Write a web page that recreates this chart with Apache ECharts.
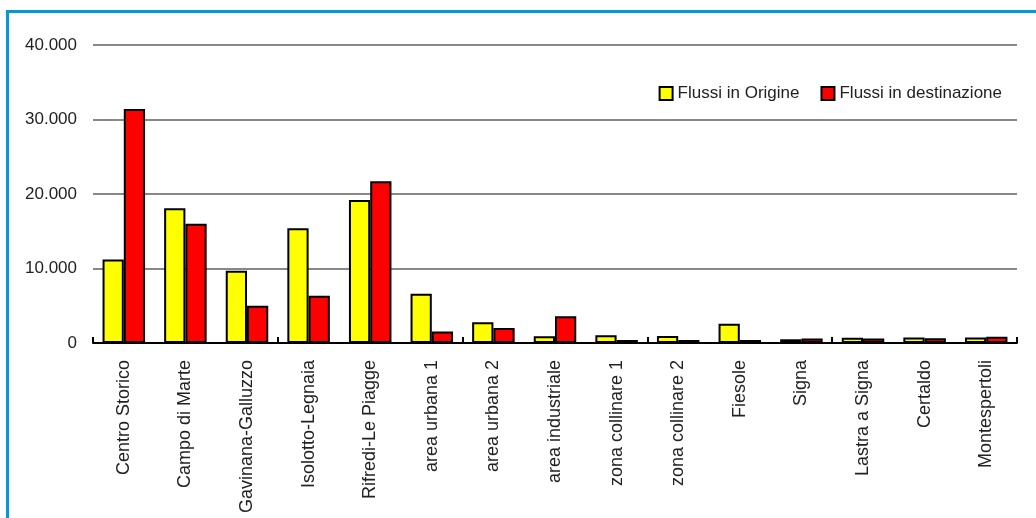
<!DOCTYPE html>
<html>
<head>
<meta charset="utf-8">
<script src="https://cdn.jsdelivr.net/npm/echarts@6/dist/echarts.min.js"></script>
<style>
  html, body { margin: 0; padding: 0; background: #fff; overflow: hidden; }
  #frame { position: absolute; left: 6px; top: 10px; width: 1100px; height: 600px;
           border-top: 3px solid #009ccf; border-left: 3px solid #009ccf; }
  #echarts { position: absolute; left: 0; top: 0; width: 1036px; height: 518px; }
</style>
</head>
<body>
<div id="frame"></div>
<div id="echarts"></div>
<script>
// zone
var zone = ['Centro Storico', 'Campo di Marte', 'Gavinana-Galluzzo', 'Isolotto-Legnaia',
    'Rifredi-Le Piagge', 'area urbana 1', 'area urbana 2', 'area industriale',
    'zona collinare 1', 'zona collinare 2', 'Fiesole', 'Signa', 'Lastra a Signa',
    'Certaldo', 'Montespertoli'];
var origine = [11200, 18100, 9700, 15400, 19200, 6600, 2800, 900, 1050, 950, 2600, 500, 700, 750, 750];
var destinazione = [31400, 16000, 5000, 6350, 21700, 1550, 2000, 3600, 400, 400, 400, 600, 600, 650, 850];
var nomi = ['Flussi in Origine', 'Flussi in destinazione'];

var font = 'Liberation Sans, Arial, sans-serif';

var myChart = echarts.init(document.getElementById('echarts'));
var option = {
    animation: false,
    textStyle: { fontFamily: font },
    legend: {
        data: nomi,
        right: 29,
        top: 80,
        itemWidth: 13,
        itemHeight: 13,
        itemGap: 21,
        icon: 'rect',
        textStyle: { fontSize: 17, color: '#222', fontFamily: font }
    },
    grid: {
        left: 93,
        right: 19,
        top: 45,
        bottom: 175
    },
    xAxis: [{
        type: 'category',
        data: zone,
        z: 5,
        axisLine: { lineStyle: { color: '#000', width: 2 } },
        axisTick: { length: 7, lineStyle: { color: '#000', width: 2 } },
        axisLabel: { rotate: 90, margin: 17, fontSize: 18, color: '#222', fontFamily: font }
    }, {
        type: 'category',
        data: zone,
        show: true,
        position: 'bottom',
        z: 5,
        axisLine: { show: false },
        axisTick: { show: true, inside: true, length: 6, lineStyle: { color: '#000', width: 2 } },
        axisLabel: { show: false }
    }],
    yAxis: {
        type: 'value',
        min: 0,
        max: 40000,
        interval: 10000,
        axisLine: { show: false },
        axisTick: { show: false },
        axisLabel: {
            margin: 16,
            fontSize: 17,
            color: '#222',
            fontFamily: font,
            formatter: function (v) { return String(v).replace(/\B(?=(\d{3})+(?!\d))/g, '.'); }
        },
        splitLine: { lineStyle: { color: '#888', width: 2 } }
    },
    series: [
        {
            name: nomi[0],
            type: 'bar',
            barGap: '0%',
            barCategoryGap: '31%',
            itemStyle: { color: '#ffff00', borderColor: '#000', borderWidth: 2 },
            data: origine
        },
        {
            name: nomi[1],
            type: 'bar',
            barGap: '0%',
            barCategoryGap: '31%',
            itemStyle: { color: '#ff0000', borderColor: '#000', borderWidth: 2 },
            data: destinazione
        }
    ]
};
myChart.setOption(option);
</script>
</body>
</html>
